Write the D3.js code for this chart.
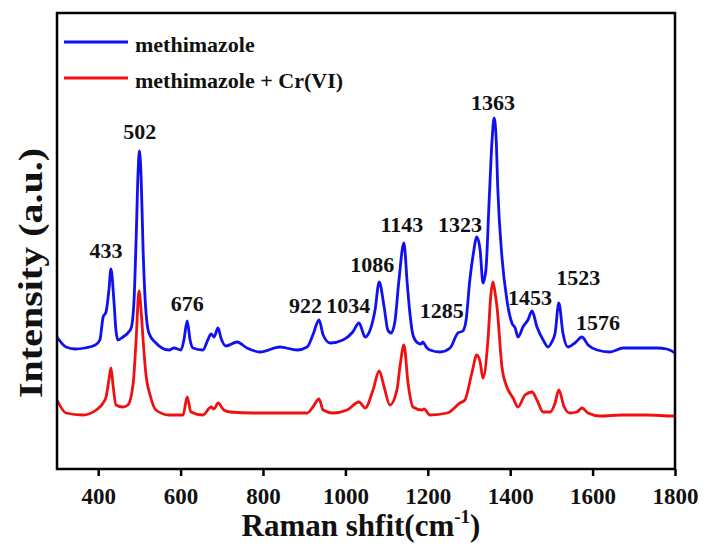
<!DOCTYPE html>
<html>
<head>
<meta charset="utf-8">
<script src="https://cdn.jsdelivr.net/npm/d3@7"></script>
<style>
    body { margin: 0; background: #fff; }
    svg { display: block; font-family: 'Liberation Serif', 'Times New Roman', serif; font-weight: bold; }
</style>
</head>
<body>
<div class="graph-container"></div>
<script>
// spectra: [raman shift (cm-1), intensity (a.u.)]
var methimazole = [
    [300, 132], [322, 122], [344, 120], [368, 121], [393, 124], [404, 129], [412, 152], [419, 157],
    [426, 179], [431, 200], [438, 169], [443, 139], [448, 129], [460, 132], [472, 136], [480, 141],
    [487, 169], [492, 229], [497, 299], [500, 318], [504, 294], [509, 219], [514, 169], [523, 136],
    [540, 126], [572, 119], [584, 121], [601, 119], [608, 129], [616, 148], [623, 129], [630, 121],
    [654, 119], [666, 129], [674, 135], [681, 132], [691, 141], [698, 131], [710, 123], [737, 127],
    [761, 121], [793, 117], [841, 122], [883, 119], [907, 122], [921, 134], [936, 149], [946, 134],
    [963, 126], [994, 129], [1018, 137], [1033, 146], [1048, 132], [1060, 139], [1072, 159], [1082, 187],
    [1094, 162], [1103, 139], [1111, 136], [1120, 147], [1130, 189], [1142, 226], [1150, 186], [1157, 154],
    [1164, 134], [1176, 126], [1184, 125], [1188, 127], [1196, 122], [1205, 119], [1230, 117], [1254, 121],
    [1273, 136], [1285, 138], [1293, 149], [1302, 189], [1310, 214], [1319, 232], [1327, 219], [1334, 186],
    [1341, 199], [1349, 269], [1356, 329], [1361, 351], [1366, 329], [1370, 279], [1380, 212], [1392, 169],
    [1404, 146], [1412, 141], [1419, 132], [1431, 142], [1443, 149], [1453, 158], [1465, 142], [1480, 129],
    [1492, 122], [1501, 127], [1509, 136], [1518, 166], [1528, 136], [1540, 122], [1557, 126], [1574, 132],
    [1589, 124], [1611, 119], [1642, 117], [1674, 121], [1715, 121], [1756, 121], [1780, 120], [1800, 116]
];

var methimazoleCr = [
    [300, 69], [322, 56], [363, 54], [395, 59], [412, 66], [419, 72], [426, 89], [431, 101],
    [436, 84], [443, 64], [460, 62], [472, 64], [485, 86], [492, 129], [499, 178], [504, 159],
    [509, 129], [516, 94], [526, 74], [540, 59], [572, 54], [606, 54], [616, 72], [625, 57],
    [654, 54], [674, 62], [681, 60], [691, 66], [705, 59], [720, 57], [776, 56], [841, 56],
    [907, 56], [921, 62], [936, 70], [946, 59], [970, 56], [1004, 59], [1033, 67], [1048, 61],
    [1067, 79], [1082, 98], [1094, 82], [1108, 64], [1125, 79], [1133, 104], [1142, 124], [1152, 86],
    [1164, 62], [1186, 59], [1191, 60], [1205, 54], [1247, 56], [1278, 66], [1290, 69], [1307, 96],
    [1319, 114], [1327, 107], [1334, 91], [1346, 129], [1353, 174], [1358, 187], [1363, 177], [1368, 162],
    [1380, 102], [1392, 82], [1407, 71], [1419, 62], [1436, 74], [1453, 77], [1465, 69], [1480, 57],
    [1497, 57], [1509, 66], [1518, 79], [1531, 62], [1545, 56], [1562, 57], [1574, 61], [1589, 56],
    [1618, 53], [1674, 54], [1732, 54], [1795, 53], [1800, 53]
];

// peak annotations: text, shift and intensity of the label's baseline centre
var peakLabels = ['433', '502', '676', '922', '1034', '1086', '1143', '1285', '1323', '1363', '1453', '1523', '1576'];
var peakShifts = [419, 501, 616, 903, 1007, 1065, 1137, 1234, 1278, 1358, 1448, 1565, 1613];
var peakHeights = [211, 330, 158, 156, 156, 197, 237, 151, 237, 359, 164, 184, 139];

var seriesNames = ['methimazole', 'methimazole + Cr(VI)'];
var seriesColors = ['#1010f0', '#f01010'];
var xTicks = [400, 600, 800, 1000, 1200, 1400, 1600, 1800];

var svgWidth = 705;
var svgHeight = 549;
var plotLeft = 57;
var plotRight = 675;
var plotTop = 13;
var plotBottom = 469;

var xScale = d3.scaleLinear()
    .domain([300, 1800])
    .range([plotLeft, plotRight]);

var yScale = d3.scaleLinear()
    .domain([0, 456])
    .range([plotBottom, plotTop]);

var svg = d3.select('.graph-container').append('svg')
    .attr('width', svgWidth)
    .attr('height', svgHeight);

var line = d3.line()
    .x(function(d) { return xScale(d[0]); })
    .y(function(d) { return yScale(d[1]); })
    .curve(d3.curveMonotoneX);

// spectra
[methimazole, methimazoleCr].forEach(function(series, i) {
    svg.append('path')
        .datum(series)
        .attr('d', line)
        .attr('fill', 'none')
        .attr('stroke', seriesColors[i])
        .attr('stroke-width', 2.8)
        .attr('stroke-linejoin', 'round');
});

// peak labels
svg.selectAll('.peak')
    .data(peakLabels)
    .enter()
    .append('text')
    .attr('class', 'peak')
    .attr('x', function(d, i) { return xScale(peakShifts[i]); })
    .attr('y', function(d, i) { return yScale(peakHeights[i]); })
    .attr('text-anchor', 'middle')
    .style('font-size', '22px')
    .attr('fill', '#111')
    .text(function(d) { return d; });

// frame
svg.append('rect')
    .attr('x', plotLeft)
    .attr('y', plotTop)
    .attr('width', plotRight - plotLeft)
    .attr('height', plotBottom - plotTop)
    .attr('fill', 'none')
    .attr('stroke', '#000')
    .attr('stroke-width', 2.5);

// x axis
var xAxis = d3.axisBottom(xScale)
    .tickValues(xTicks)
    .tickFormat(d3.format('d'))
    .tickSize(7)
    .tickSizeOuter(0);

var gx = svg.append('g')
    .attr('transform', 'translate(0,' + plotBottom + ')')
    .call(xAxis);

gx.select('.domain').remove();
gx.selectAll('.tick line')
    .attr('stroke', '#000')
    .attr('stroke-width', 2.5);
gx.selectAll('.tick text')
    .attr('y', 35)
    .attr('dy', null)
    .attr('fill', '#111')
    .style('font-family', "'Liberation Serif', 'Times New Roman', serif")
    .style('font-weight', 'bold')
    .style('font-size', '23px');

// x axis title
var xTitle = svg.append('text')
    .attr('x', 361)
    .attr('y', 536)
    .attr('text-anchor', 'middle')
    .style('font-size', '31px')
    .attr('fill', '#111');
xTitle.append('tspan').text('Raman shfit(cm');
xTitle.append('tspan')
    .attr('dy', -13)
    .style('font-size', '19px')
    .text('-1');
xTitle.append('tspan')
    .attr('dy', 13)
    .text(')');

// y axis title
svg.append('text')
    .attr('transform', 'translate(42,273) rotate(-90)')
    .attr('text-anchor', 'middle')
    .attr('textLength', 250)
    .attr('lengthAdjust', 'spacingAndGlyphs')
    .style('font-size', '34px')
    .attr('fill', '#111')
    .text('Intensity (a.u.)');

// legend
var legend = svg.append('g');
seriesNames.forEach(function(name, i) {
    var ly = 42 + i * 36;
    legend.append('line')
        .attr('x1', 64)
        .attr('x2', 128)
        .attr('y1', ly)
        .attr('y2', ly)
        .attr('stroke', seriesColors[i])
        .attr('stroke-width', 3);
    legend.append('text')
        .attr('x', 135)
        .attr('y', ly + 10)
        .style('font-size', '22px')
        .attr('fill', '#111')
        .text(name);
});
</script>
</body>
</html>
